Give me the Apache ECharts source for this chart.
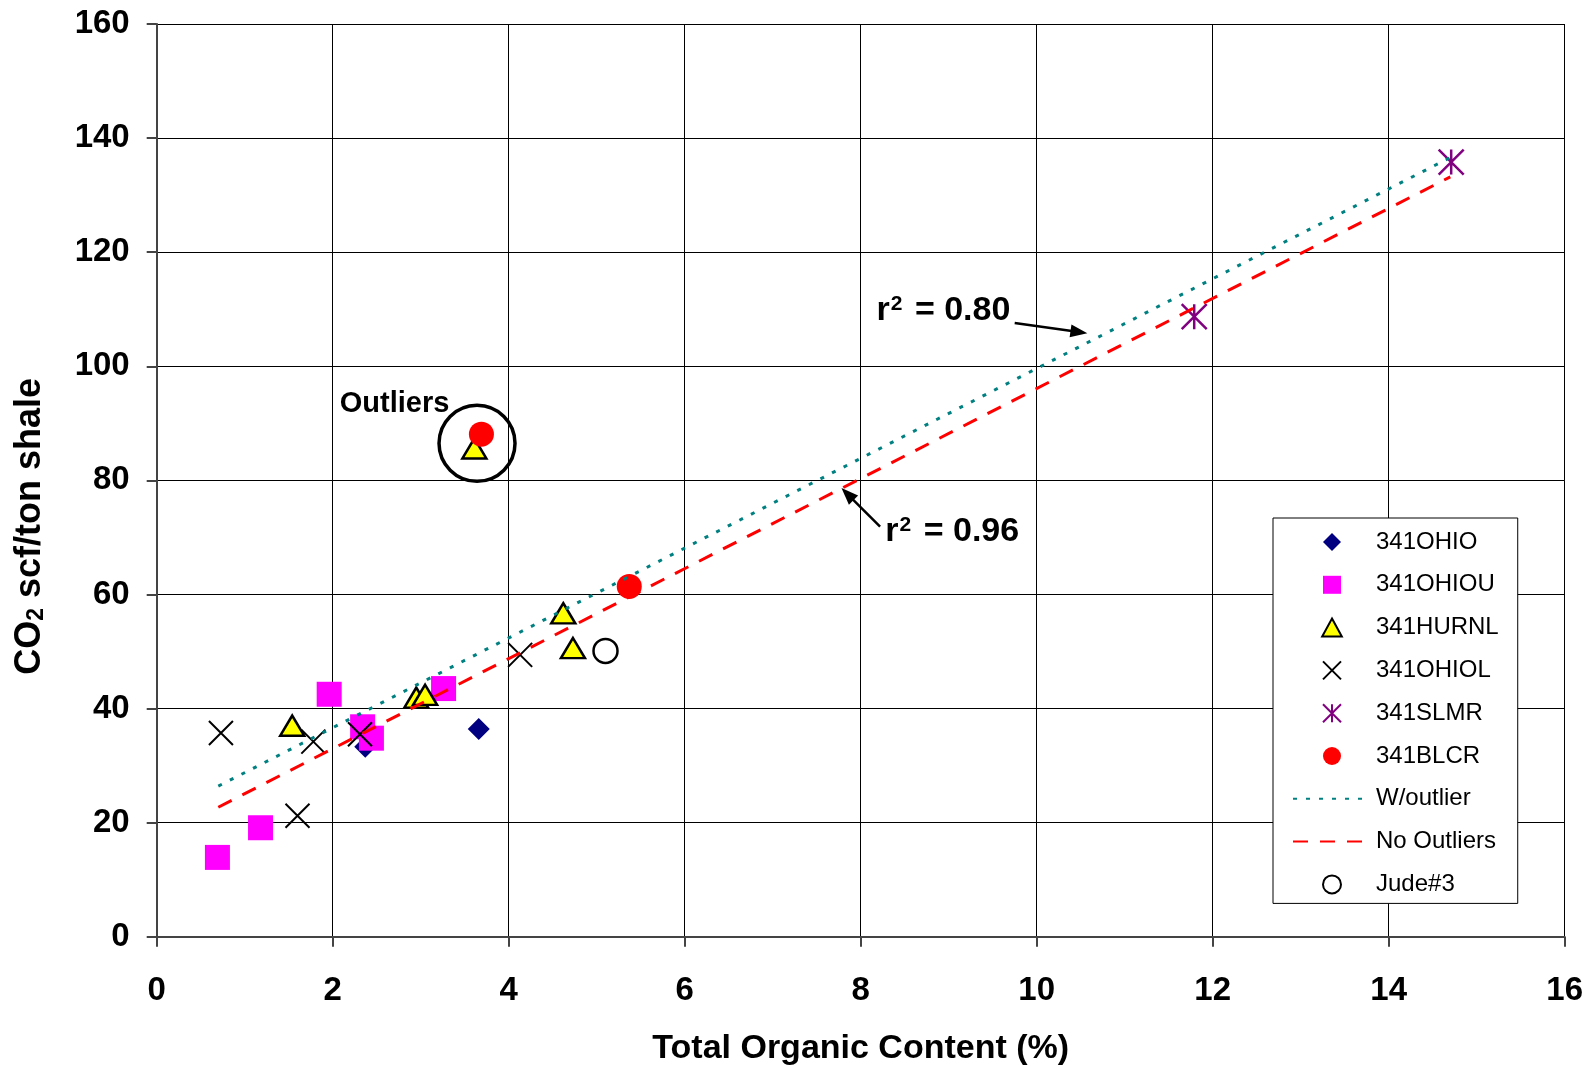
<!DOCTYPE html>
<html><head><meta charset="utf-8">
<script src="https://cdn.jsdelivr.net/npm/echarts@6/dist/echarts.min.js"></script>
<style>html,body{margin:0;padding:0;background:#fff}#c{width:1593px;height:1066px}</style>
</head><body><div id="c"></div>
<script>
// ---- data (x = TOC %, y = CO2 scf/ton shale) ----
const ohio   = [[2.37,33.3],[3.66,36.4]];
const ohiou  = [[0.69,13.9],[1.18,19.1],[1.96,42.5],[2.34,36.8],[2.44,34.8],[3.26,43.5]];
const hurnl  = [[1.54,37.0],[2.95,41.9],[3.05,42.4],[3.61,85.6],[4.62,56.7],[4.73,50.6]];
const ohiol  = [[0.73,35.7],[1.60,21.2],[1.78,34.2],[2.31,35.5],[4.13,49.4]];
const slmr   = [[11.79,108.7],[14.71,135.8]];
const blcr   = [[3.69,88.1],[5.37,61.4]];
const jude3  = [[5.10,50.1]];
const trendWithOutlier = [[0.7,26.4],[14.7,136.6]];
const trendNoOutliers  = [[0.7,22.7],[14.7,133.2]];
const legendNames = ['341OHIO','341OHIOU','341HURNL','341OHIOL','341SLMR','341BLCR','W/outlier','No Outliers','Jude#3'];
const lineNames = ['W/outlier','No Outliers'];
const xMin = 0, xMax = 16, xStep = 2;
const yMin = 0, yMax = 160, yStep = 20;
// annotation anchors in data space
const arrow080 = [[9.75,107.6],[10.48,106.0]];
const arrow096 = [[8.22,71.9],[7.85,77.6]];
const label080 = [8.18,109.8];
const label096 = [8.28,71.0];
const outliersLabel = [2.08,93.4];
const outlierCircle = [3.64,86.5];

const SYM_DIAMOND = 'path://M10,0L20,10L10,20L0,10Z';
const SYM_SQUARE = 'path://M0,0L20,0L20,20L0,20Z';
const SYM_TRIANGLE = 'path://M12,0L24,22L0,22Z';
const SYM_X = 'path://M0,0L20,20M20,0L0,20';
const SYM_STAR = 'path://M0,0L20,20M20,0L0,20M10,0L10,20';

const FONT = "'Liberation Sans', Arial, sans-serif";
const chart = echarts.init(document.getElementById('c'), null, {renderer:'canvas'});

const option = {
  animation: false,
  backgroundColor: '#fff',
  textStyle: {fontFamily: FONT},
  grid: {left: 156.7, top: 24, right: 28.3, bottom: 129.3, containLabel: false, outerBoundsMode: 'none'},
  xAxis: {
    type: 'value', min: xMin, max: xMax, interval: xStep,
    name: 'Total Organic Content (%)', nameLocation: 'middle', nameGap: 95,
    nameTextStyle: {fontFamily: FONT, fontSize: 34, fontWeight: 'bold', color: '#000'},
    axisLine: {show: true, onZero: false, lineStyle: {color: '#444', width: 2}},
    axisTick: {show: true, inside: false, length: 10, lineStyle: {color: '#444', width: 2}},
    axisLabel: {fontFamily: FONT, fontSize: 33, fontWeight: 'bold', color: '#000', margin: 38},
    splitLine: {show: true, lineStyle: {color: '#000', width: 1}}
  },
  yAxis: {
    type: 'value', min: yMin, max: yMax, interval: yStep,
    name: 'CO{sub|2} scf/ton shale', nameLocation: 'middle', nameGap: 109,
    nameTextStyle: {fontFamily: FONT, fontSize: 36, fontWeight: 'bold', color: '#000',
      padding: [0, 92, 0, 0],
      rich: {sub: {fontFamily: FONT, fontSize: 23, fontWeight: 'bold', color: '#000', verticalAlign: 'bottom', padding: [8,0,0,0]}}},
    axisLine: {show: true, lineStyle: {color: '#444', width: 2}},
    axisTick: {show: true, inside: false, length: 10, lineStyle: {color: '#444', width: 2}},
    axisLabel: {fontFamily: FONT, fontSize: 33, fontWeight: 'bold', color: '#000', margin: 27},
    splitLine: {show: true, lineStyle: {color: '#000', width: 1}}
  },
  legend: {
    data: legendNames.map(n => lineNames.includes(n) ? {name: n, itemStyle: {opacity: 0}} : {name: n}),
    orient: 'vertical', left: 1273, top: 518,
    padding: [12, 19, 7, 19], itemWidth: 78, itemHeight: 18, itemGap: 18.8,
    symbolKeepAspect: true,
    backgroundColor: '#fff', borderColor: '#000', borderWidth: 1, borderRadius: 0,
    textStyle: {fontFamily: FONT, fontSize: 24, color: '#000'},
    selectedMode: false
  },
  series: [
    {name: '341OHIO', type: 'scatter', data: ohio, symbol: SYM_DIAMOND, symbolSize: 22, symbolKeepAspect: true,
      itemStyle: {color: '#000080', opacity: 1}, z: 2},
    {name: '341OHIOU', type: 'scatter', data: ohiou, symbol: SYM_SQUARE, symbolSize: 25, symbolKeepAspect: true,
      itemStyle: {color: '#FF00FF', opacity: 1}, z: 2},
    {name: '341HURNL', type: 'scatter', data: hurnl, symbol: SYM_TRIANGLE, symbolSize: [24, 22], symbolKeepAspect: true,
      itemStyle: {color: '#FFFF00', borderColor: '#000', borderWidth: 2.5, opacity: 1}, z: 2},
    {name: '341OHIOL', type: 'scatter', data: ohiol, symbol: SYM_X, symbolSize: 24, symbolKeepAspect: true,
      itemStyle: {color: 'none', borderColor: '#000', borderWidth: 2, opacity: 1}, z: 2},
    {name: '341SLMR', type: 'scatter', data: slmr, symbol: SYM_STAR, symbolSize: 25, symbolKeepAspect: true,
      itemStyle: {color: 'none', borderColor: '#800080', borderWidth: 2.5, opacity: 1}, z: 2},
    {name: '341BLCR', type: 'scatter', data: blcr, symbol: 'circle', symbolSize: 25,
      itemStyle: {color: '#FF0000', opacity: 1}, z: 2},
    {name: 'W/outlier', type: 'line', data: trendWithOutlier, showSymbol: false, symbol: 'none',
      lineStyle: {color: '#008080', width: 3, type: [4, 9]}, itemStyle: {color: '#008080'}, z: 3},
    {name: 'No Outliers', type: 'line', data: trendNoOutliers, showSymbol: false, symbol: 'none',
      lineStyle: {color: '#FF0000', width: 3, type: [15, 12]}, itemStyle: {color: '#FF0000'}, z: 3},
    {name: 'Jude#3', type: 'scatter', data: jude3, symbol: 'circle', symbolSize: 24,
      itemStyle: {color: '#fff', borderColor: '#000', borderWidth: 2.5, opacity: 1}, z: 2},
    {name: 'annotations', type: 'scatter', data: [], z: 4,
      markLine: {silent: true, symbol: ['none', 'triangle'], symbolSize: [13, 17],
        label: {show: false},
        lineStyle: {color: '#000', width: 2.5, type: 'solid'},
        itemStyle: {color: '#000'},
        data: [
          [{coord: arrow080[0]}, {coord: arrow080[1]}],
          [{coord: arrow096[0]}, {coord: arrow096[1]}]
        ]}}
  ]
};
chart.setOption(option);

function px(p){ return chart.convertToPixel({gridIndex: 0}, p); }
const pO = px(outliersLabel), p80 = px(label080), p96 = px(label096), pc = px(outlierCircle);
const rich = {sup: {fontFamily: FONT, fontSize: 21, fontWeight: 'bold', fill: '#000', verticalAlign: 'top', padding: [0, 3, 0, 1]}};
chart.setOption({
  graphic: [
    {type: 'text', x: pO[0], y: pO[1], z: 10,
      style: {text: 'Outliers', font: "bold 29px 'Liberation Sans', Arial, sans-serif", fill: '#000', verticalAlign: 'middle', align: 'left'}},
    {type: 'text', x: p80[0], y: p80[1], z: 10,
      style: {text: 'r{sup|2} = 0.80', font: "bold 34px 'Liberation Sans', Arial, sans-serif", fill: '#000', verticalAlign: 'middle', align: 'left', rich: rich}},
    {type: 'text', x: p96[0], y: p96[1], z: 10,
      style: {text: 'r{sup|2} = 0.96', font: "bold 34px 'Liberation Sans', Arial, sans-serif", fill: '#000', verticalAlign: 'middle', align: 'left', rich: rich}},
    {type: 'circle', z: 10, shape: {cx: pc[0], cy: pc[1], r: 38},
      style: {fill: 'none', stroke: '#000', lineWidth: 3.5}}
  ]
});
</script>
</body></html>
